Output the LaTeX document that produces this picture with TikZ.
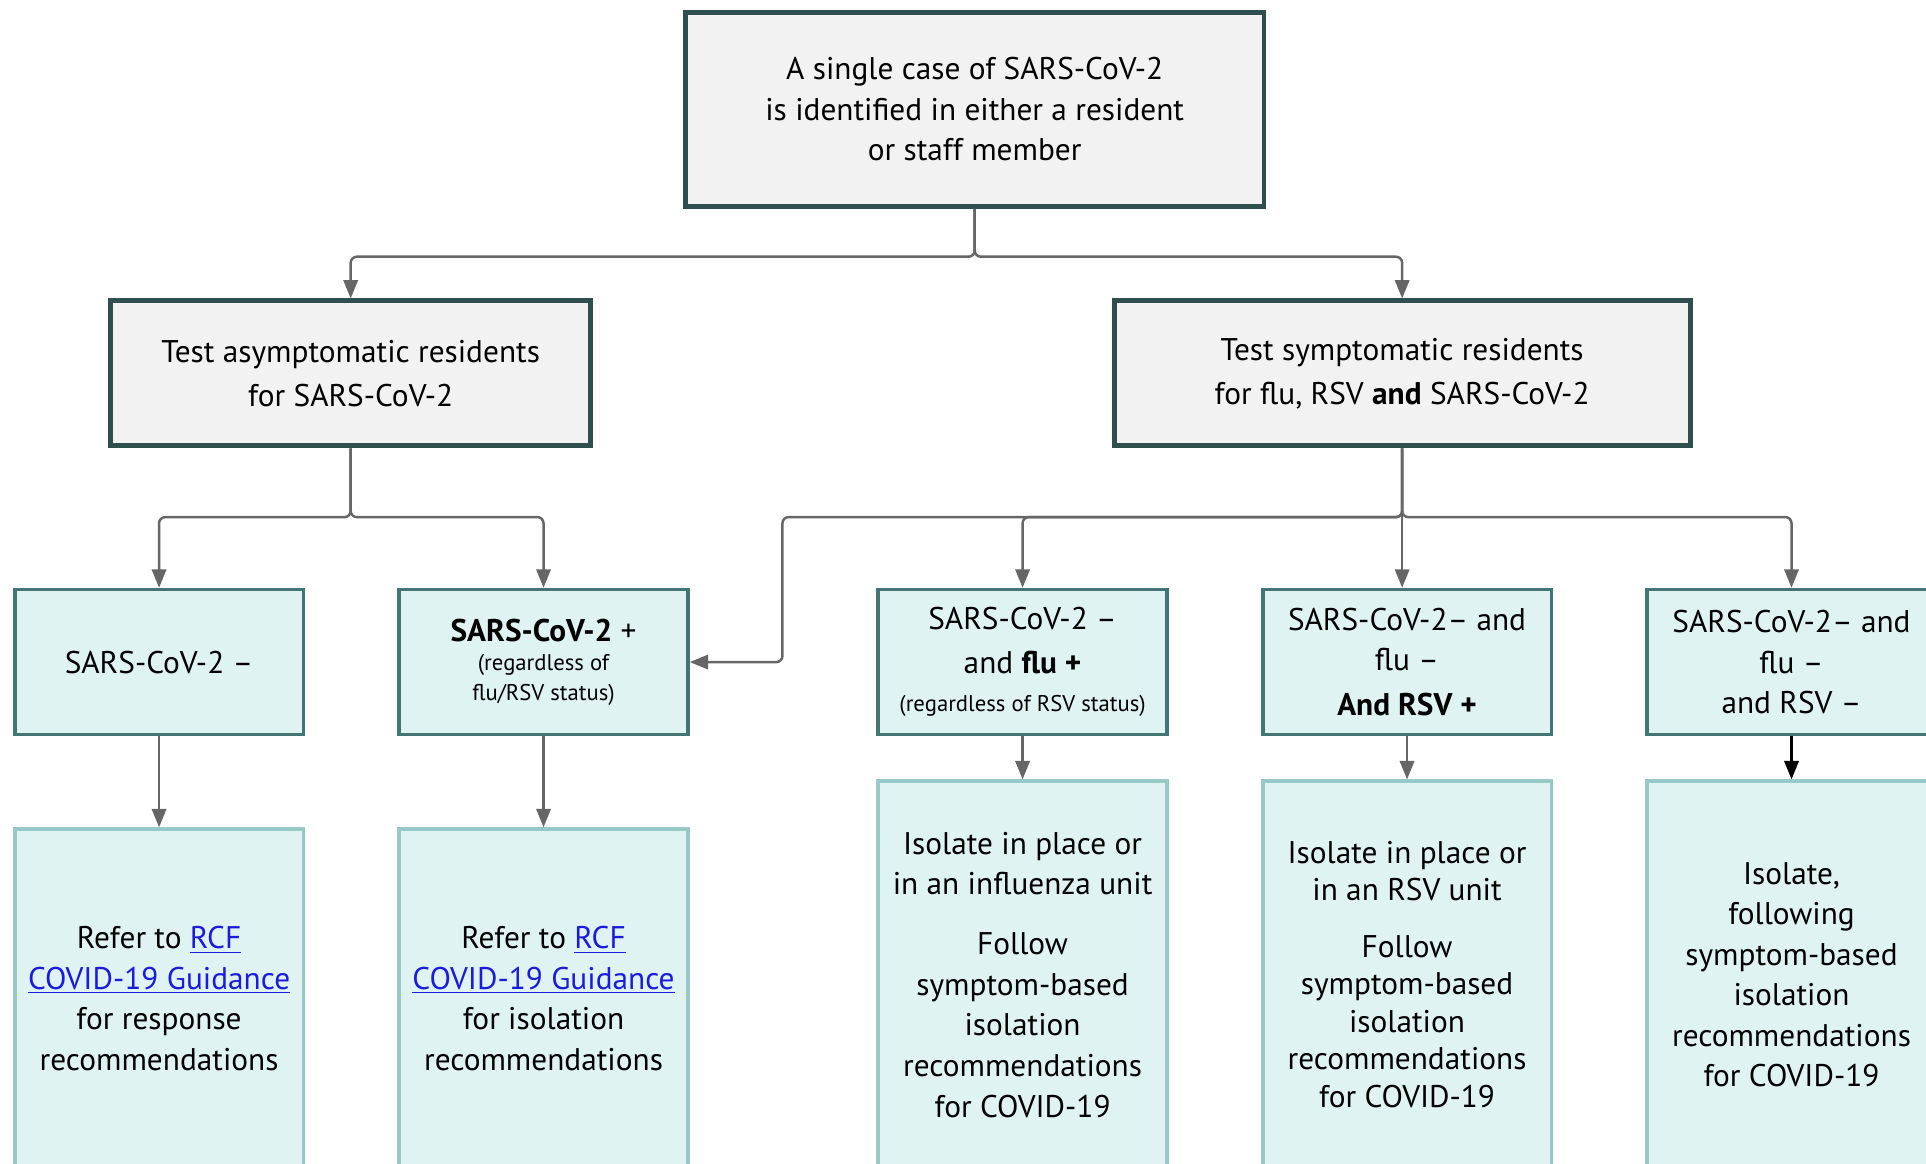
\documentclass[tikz,border=0pt]{standalone}
\usepackage{fontspec}
\setmainfont{PT Sans}
\usepackage{xcolor}
\usetikzlibrary{arrows.meta}
\usetikzlibrary{calc}

\definecolor{headfill}{HTML}{F2F2F2}
\definecolor{headline}{HTML}{2F4F4F}
\definecolor{testfill}{HTML}{E0F3F3}
\definecolor{testline}{HTML}{437575}
\definecolor{stepline}{HTML}{98C8C8}
\definecolor{arrowgrey}{HTML}{666666}
\definecolor{urlblue}{HTML}{1A1AE0}

\begin{document}
\begin{tikzpicture}[x=0.6pt, y=-0.6pt,
  head/.style={draw=headline, fill=headfill, line width=2.4pt, align=center, inner sep=0pt,
    font=\fontsize{15.3pt}{19.8pt}\selectfont},
  result/.style={draw=testline, fill=testfill, line width=1.8pt, align=center, inner sep=0pt,
    minimum width=141pt, minimum height=70.8pt, font=\fontsize{15.3pt}{19.8pt}\selectfont},
  action/.style={draw=stepline, fill=testfill, line width=1.8pt, align=center, inner sep=0pt,
    minimum width=141pt, font=\fontsize{15.3pt}{19.8pt}\selectfont},
  flow/.style={draw=arrowgrey, line width=1.2pt, rounded corners=3pt,
    -{Triangle[length=9pt, width=7pt]}}]
  \fill[white] (0,0) rectangle (1568,947);
  \path[use as bounding box] (0,0) rectangle (1568,947);
  \clip (0,0) rectangle (1568,947);

  \node[head, minimum width=282.6pt, minimum height=94.8pt] (1) at (793.5,89) {A single case of SARS-CoV-2\\is identified in either a resident\\or staff member};

  \node[head, minimum width=234.6pt, minimum height=70.8pt] (2) at (285.5,304) {Test asymptomatic residents\\[1.8pt]for SARS-CoV-2};
  \node[head, minimum width=281.4pt, minimum height=70.8pt] (3) at (1141.5,304) {Test symptomatic residents\\[1.8pt]for flu, RSV \textbf{and} SARS-CoV-2};

  \node[result] (4) at (129.5,539) {SARS-CoV-2 –};
  \node[result] (5) at (442.5,539) {\textbf{SARS-CoV-2} +\\[-5.4pt]{\fontsize{11.1pt}{14.4pt}\selectfont (regardless of}\\[-5.4pt]{\fontsize{11.1pt}{14.4pt}\selectfont flu/RSV status)}};
  \node[result] (6) at (832.5,539) {SARS-CoV-2 –\\[1.8pt]and \textbf{flu +}\\[-1.2pt]{\fontsize{11.1pt}{14.4pt}\selectfont (regardless of RSV status)}};
  \node[result] (7) at (1145.5,539) {SARS-CoV-2– and\\flu –\\[2.4pt]\textbf{And RSV +}};
  \node[result] (8) at (1458.5,539) {SARS-CoV-2– and\\flu –\\and RSV –};

  \node[action, minimum height=165.6pt] (9) at (129.5,813) {Refer to {\color{urlblue}\underline{RCF}}\\{\color{urlblue}\underline{COVID-19 Guidance}}\\for response\\recommendations};
  \node[action, minimum height=165.6pt] (10) at (442.5,813) {Refer to {\color{urlblue}\underline{RCF}}\\{\color{urlblue}\underline{COVID-19 Guidance}}\\for isolation\\recommendations};
  \node[action, minimum height=189pt] (11) at (832.5,793.5) {Isolate in place or\\in an influenza unit\\[9.6pt]Follow\\symptom-based\\isolation\\recommendations\\for COVID-19};
  \node[action, minimum height=189pt] (12) at (1145.5,793.5) {Isolate in place or\\[-1.8pt]in an RSV unit\\[7.8pt]Follow\\[-1.5pt]symptom-based\\[-1.5pt]isolation\\[-1.5pt]recommendations\\[-1.5pt]for COVID-19};
  \node[action, minimum height=189pt] (13) at (1458.5,793.5) {Isolate,\\following\\symptom-based\\isolation\\recommendations\\for COVID-19};

  \draw[flow] (1.south) -- ++(0,39) -| (2.north);
  \draw[flow] (1.south) -- ++(0,39) -| (3.north);
  \draw[flow] (2.south) -- ++(0,56) -| (4.north);
  \draw[flow] (2.south) -- ++(0,56) -| (5.north);
  \draw[flow] (3.south) -- ++(0,56) -| (6.north);
  \draw[flow] (3.south) -- (3.south |- 7.north);
  \draw[flow] (3.south) -- ++(0,56) -| (8.north);
  \draw[flow] (3.south) -- ++(0,56) -- ++(-504.5,0) |- (5.east);

  \draw[flow] (4) -- (9);
  \draw[flow] (5) -- (10);
  \draw[flow] (6) -- (11);
  \draw[flow] (7) -- (12);
  \draw[flow, draw=black] (8) -- (13);
\end{tikzpicture}
\end{document}
